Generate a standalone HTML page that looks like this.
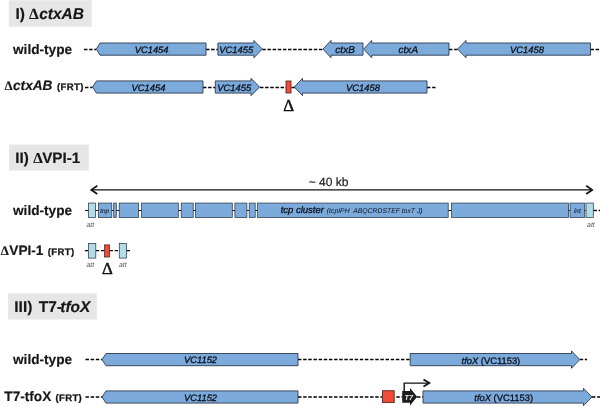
<!DOCTYPE html>
<html>
<head>
<meta charset="utf-8">
<title>Figure</title>
<style>
html,body{margin:0;padding:0;background:#fff;}
body{width:600px;height:407px;overflow:hidden;}
svg{display:block;font-family:"Liberation Sans",Arial,sans-serif;text-rendering:geometricPrecision;}
.g{fill:#7caadb;stroke:#2e3b4e;stroke-width:0.9;stroke-linejoin:miter;}
.a{fill:#b3dbe8;stroke:#2e3b4e;stroke-width:0.9;}
.r{fill:#f04a38;stroke:#4a1d18;stroke-width:0.8;}
.t{stroke-width:0.75;}
.d{stroke:#000;stroke-width:1.3;stroke-dasharray:3.45 1.7;fill:none;}
.l{stroke:#111;stroke-width:1.2;fill:none;}
.h{font-weight:bold;font-size:15.3px;fill:#161616;stroke:#161616;stroke-width:0.15;}
.lb{font-weight:bold;font-size:13.65px;fill:#161616;stroke:#161616;stroke-width:0.15;}
.sm{font-size:9.5px;letter-spacing:0.4px;stroke-width:0.3;}
.gt{font-style:italic;font-size:9.4px;fill:#0a111c;stroke:#0a111c;stroke-width:0.3;text-anchor:middle;}
.at{font-style:italic;font-size:6.9px;fill:#555;text-anchor:middle;}
.dl{font-family:"Liberation Serif",serif;font-size:16.8px;fill:#111;stroke:#111;stroke-width:0.45;text-anchor:middle;}
.sy{font-family:"Liberation Serif",serif;}
.n{font-weight:normal;font-style:normal;}
.i{font-style:italic;}
.u{font-style:normal;}
</style>
</head>
<body>
<svg width="600" height="407" viewBox="0 0 600 407">
<defs><filter id="soft" filterUnits="userSpaceOnUse" x="-10" y="-10" width="620" height="427" color-interpolation-filters="sRGB"><feGaussianBlur stdDeviation="0.3"/></filter></defs>
<rect width="600" height="407" fill="#fff"/>
<g filter="url(#soft)">

<rect x="8.8" y="0.3" width="82.8" height="26.4" fill="#e6e6e6"/>
<text class="h" y="19.4" style="font-size:15.5px"><tspan x="15.4">I)</tspan><tspan class="sy" x="28.9">Δ</tspan><tspan class="i" x="39.2">ctxAB</tspan></text>
<text class="lb" x="13" y="54.3">wild-type</text>
<path class="d" d="M84 49.5H96M206 49.5H218M262.3 49.5H323M449 49.5H457.5M590.5 49.5H600"/>
<path class="g" d="M96.3 49.1L100 43.0H206V55.2H100Z"/>
<path class="g" d="M217.9 43.0H253.9V40.400000000000006L262.3 49.1L253.9 57.8V55.2H217.9Z"/>
<path class="g" d="M323 49.1L331 40.400000000000006V43.0H363V55.2H331V57.8Z"/>
<path class="g" d="M363.7 49.1L371.7 40.400000000000006V43.0H449V55.2H371.7V57.8Z"/>
<path class="g" d="M457.5 49.1L466 40.400000000000006V43.0H590.5V55.2H466V57.8Z"/>
<text class="gt" x="151.6" y="53.2">VC1454</text>
<text class="gt" x="236.3" y="53.2">VC1455</text>
<text class="gt" x="345.1" y="53.2" style="font-size:9.9px;letter-spacing:0.15px">ctxB</text>
<text class="gt" x="408.3" y="53.2" style="font-size:9.9px;letter-spacing:0.15px">ctxA</text>
<text class="gt" x="527" y="53.2">VC1458</text>
<text class="lb" y="90.35"><tspan class="sy" x="4.5" style="font-size:13px">Δ</tspan><tspan class="i" x="13">ctxAB</tspan></text>
<text class="lb sm" x="57" y="90.4">(FRT)</text>
<path class="d" d="M85 87.5H92.5M203 87.5H215M260 87.5H286M291.5 87.5H295M427 87.5H435.5"/>
<path class="g" d="M92.5 87L96.5 80.9H203V93.1H96.5Z"/>
<path class="g" d="M215.3 80.9H251V78.3L259.6 87L251 95.7V93.1H215.3Z"/>
<rect class="r" x="286" y="81" width="5" height="12"/>
<path class="g" d="M294.3 87L302.5 78.3V80.9H427V93.1H302.5V95.7Z"/>
<text class="gt" x="148.5" y="90.8">VC1454</text>
<text class="gt" x="234.2" y="90.8">VC1455</text>
<text class="gt" x="363" y="90.8">VC1458</text>
<text class="dl" x="288.7" y="110.7">Δ</text>
<rect x="9" y="144.6" width="79.8" height="26" fill="#e6e6e6"/>
<text class="h" y="163.3" style="font-size:15.2px"><tspan x="15.2">II)</tspan><tspan class="sy" x="33.2">Δ</tspan><tspan x="42.2">VPI-1</tspan></text>
<path class="l" d="M91.5 189.9H592" style="stroke-width:1.4"/>
<path class="l" d="M97.3 185.8L91.3 189.9L97.3 194M586.2 185.8L592.2 189.9L586.2 194" style="stroke-width:1.7"/>
<text class="" x="328.5" y="186.2" style="font-size:12px;fill:#1a1a1a;stroke:#1a1a1a;stroke-width:0.2;text-anchor:middle">~ 40 kb</text>
<text class="lb" x="13" y="215.1">wild-type</text>
<path class="l" d="M85 210.5H594"/>
<path class="d" d="M593.5 210.5H600"/>
<rect class="a t" x="88.4" y="203.05" width="7.0" height="14.55"/>
<rect class="g t" x="98.4" y="203.05" width="13.4" height="14.55"/>
<rect class="g t" x="113.7" y="203.05" width="2.6" height="14.55"/>
<rect class="g t" x="119.2" y="203.05" width="19.4" height="14.55"/>
<rect class="g t" x="141.6" y="203.05" width="36.7" height="14.55"/>
<rect class="g t" x="181.2" y="203.05" width="12.0" height="14.55"/>
<rect class="g t" x="195.6" y="203.05" width="36.7" height="14.55"/>
<rect class="g t" x="234.9" y="203.05" width="12.0" height="14.55"/>
<rect class="g t" x="249.2" y="203.05" width="6.0" height="14.55"/>
<rect class="g t" x="257.3" y="203.05" width="190.9" height="14.55"/>
<rect class="g t" x="451.4" y="203.05" width="117.1" height="14.55"/>
<rect class="g t" x="570" y="203.05" width="14.7" height="14.55"/>
<rect class="a t" x="586" y="203.05" width="7.3" height="14.55"/>
<text class="gt" x="104.6" y="213.1" style="font-size:6.4px;stroke-width:0.1;fill:#16243a">tnp</text>
<text class="gt" x="577.3" y="213.1" style="font-size:6.4px;stroke-width:0.1;fill:#16243a">int</text>
<text class="gt" x="302.3" y="213.4" style="font-size:9.5px;">tcp cluster</text>
<text class="gt" x="374.7" y="213" style="font-size:6.85px;stroke:none">(tcpIPH&#160; ABQCRDSTEF toxT J)</text>
<text class="at" x="90.3" y="227">att</text>
<text class="at" x="590.9" y="227">att</text>
<text class="lb" y="254.9"><tspan class="sy" x="0.8" style="font-size:13px">Δ</tspan><tspan x="9.3">VPI-1</tspan></text>
<text class="lb sm" x="47.8" y="254.9">(FRT)</text>
<path class="d" d="M84.8 250.7H88.5M95.8 250.7H104.6M109.5 250.7H119.3M126.6 250.7H130.2"/>
<rect class="a t" x="88.5" y="243.5" width="7.3" height="14.6"/>
<rect class="r t" x="104.6" y="244.9" width="4.9" height="12.1"/>
<rect class="a t" x="119.3" y="243.5" width="7.3" height="14.6"/>
<text class="at" x="90.3" y="267.2">att</text>
<text class="at" x="122.8" y="267.2">att</text>
<text class="dl" x="107.5" y="273.6">Δ</text>
<rect x="8.1" y="293.3" width="88.7" height="26.2" fill="#e6e6e6"/>
<text class="h" y="312" style="font-size:15.5px"><tspan x="14.3">III)</tspan><tspan x="38.7">T7-</tspan><tspan class="i" x="60.3">tfoX</tspan></text>
<text class="lb" x="13" y="363.8">wild-type</text>
<path class="d" d="M85.5 359.5H102M298 359.5H410M579.7 359.5H587"/>
<path class="g" d="M102 359.6L106 353.5H298V365.70000000000005H106Z"/>
<path class="g" d="M410.2 353.5H571.5V350.90000000000003L579.8 359.6L571.5 368.3V365.70000000000005H410.2Z"/>
<text class="gt" x="200.5" y="363.4">VC1152</text>
<text class="gt" x="490.9" y="363.5" style="font-size:9.4px;">tfoX <tspan class="u">(VC1153)</tspan></text>
<text class="lb" y="401.2"><tspan x="4.3">T7-tfoX</tspan></text>
<text class="lb sm" x="55.4" y="401.2">(FRT)</text>
<path class="d" d="M85.5 397H102M298 397H382M396.3 397H402.5M417 397H423M592 397H600"/>
<path class="g" d="M102 397L106 390.9H298V403.1H106Z"/>
<rect class="r" x="382.4" y="390.7" width="11.8" height="11.9"/>
<path d="M402.2 391.1H410V387.9L417.2 396.7L410 405.5V402.7H402.2Z" fill="#1c1c1c"/>
<text class="" x="408.7" y="400.2" style="font-size:7.2px;font-style:italic;font-weight:bold;fill:#eee;text-anchor:middle">T7</text>
<path class="l" d="M404.2 391.5V383.1H429" style="stroke-width:1.4"/>
<path class="l" d="M423.5 379.6L429.4 383.1L423.5 386.6" style="stroke-width:1.7"/>
<path class="g" d="M423 390.9H583.5V388.3L592 397L583.5 405.7V403.1H423Z"/>
<text class="gt" x="200.5" y="400.7">VC1152</text>
<text class="gt" x="503.7" y="400.8" style="font-size:9.4px;">tfoX <tspan class="u">(VC1153)</tspan></text>
</g>
</svg>
</body>
</html>
